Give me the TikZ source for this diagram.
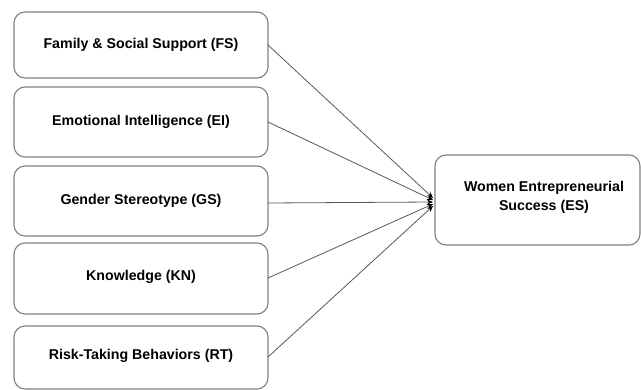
\documentclass[tikz,border=0pt]{standalone}
\usepackage{fontspec}
\setmainfont{Liberation Sans}
\usetikzlibrary{arrows.meta}
\begin{document}
\begin{tikzpicture}[x=1pt,y=-1pt,
  box/.style={draw=black!50,line width=1.1pt,rounded corners=11pt,fill=white},
  lbl/.style={font=\bfseries\fontsize{14.2}{19}\selectfont,align=center},
  conn/.style={draw=black!65,line width=0.8pt,-{Stealth[length=6pt,width=5pt,black]}}]
\useasboundingbox (0,0) rectangle (641,390);
\fill[white] (0,0) rectangle (641,390);
\draw[box] (14,12) rectangle (268,78);
\draw[box] (14,87) rectangle (268,157);
\draw[box] (14,166) rectangle (268,236);
\draw[box] (14,243) rectangle (268,314);
\draw[box] (14,326) rectangle (268,389);
\draw[box] (435,155) rectangle (640,245);
\node[lbl] (fs) at (141,45) {Family \& Social Support (FS)};
\node[lbl] (ei) at (141,122) {Emotional Intelligence (EI)};
\node[lbl] (gs) at (141,201) {Gender Stereotype (GS)};
\node[lbl] (kn) at (141,277) {Knowledge (KN)};
\node[lbl] (rt) at (141,356) {Risk-Taking Behaviors (RT)};
\node[lbl] (es) at (544,197) {Women Entrepreneurial\\Success (ES)};
\coordinate (fsr) at (268,45);
\coordinate (eir) at (268,122);
\coordinate (gsr) at (268,203);
\coordinate (knr) at (268,278);
\coordinate (rtr) at (268,357);
\coordinate (e1) at (433,198);
\coordinate (e2) at (433,200);
\coordinate (e3) at (433,202);
\coordinate (e4) at (433,204);
\coordinate (e5) at (433,206);
\draw[conn] (fsr) -- (e1);
\draw[conn] (eir) -- (e2);
\draw[conn] (gsr) -- (e3);
\draw[conn] (knr) -- (e4);
\draw[conn] (rtr) -- (e5);
\end{tikzpicture}
\end{document}
